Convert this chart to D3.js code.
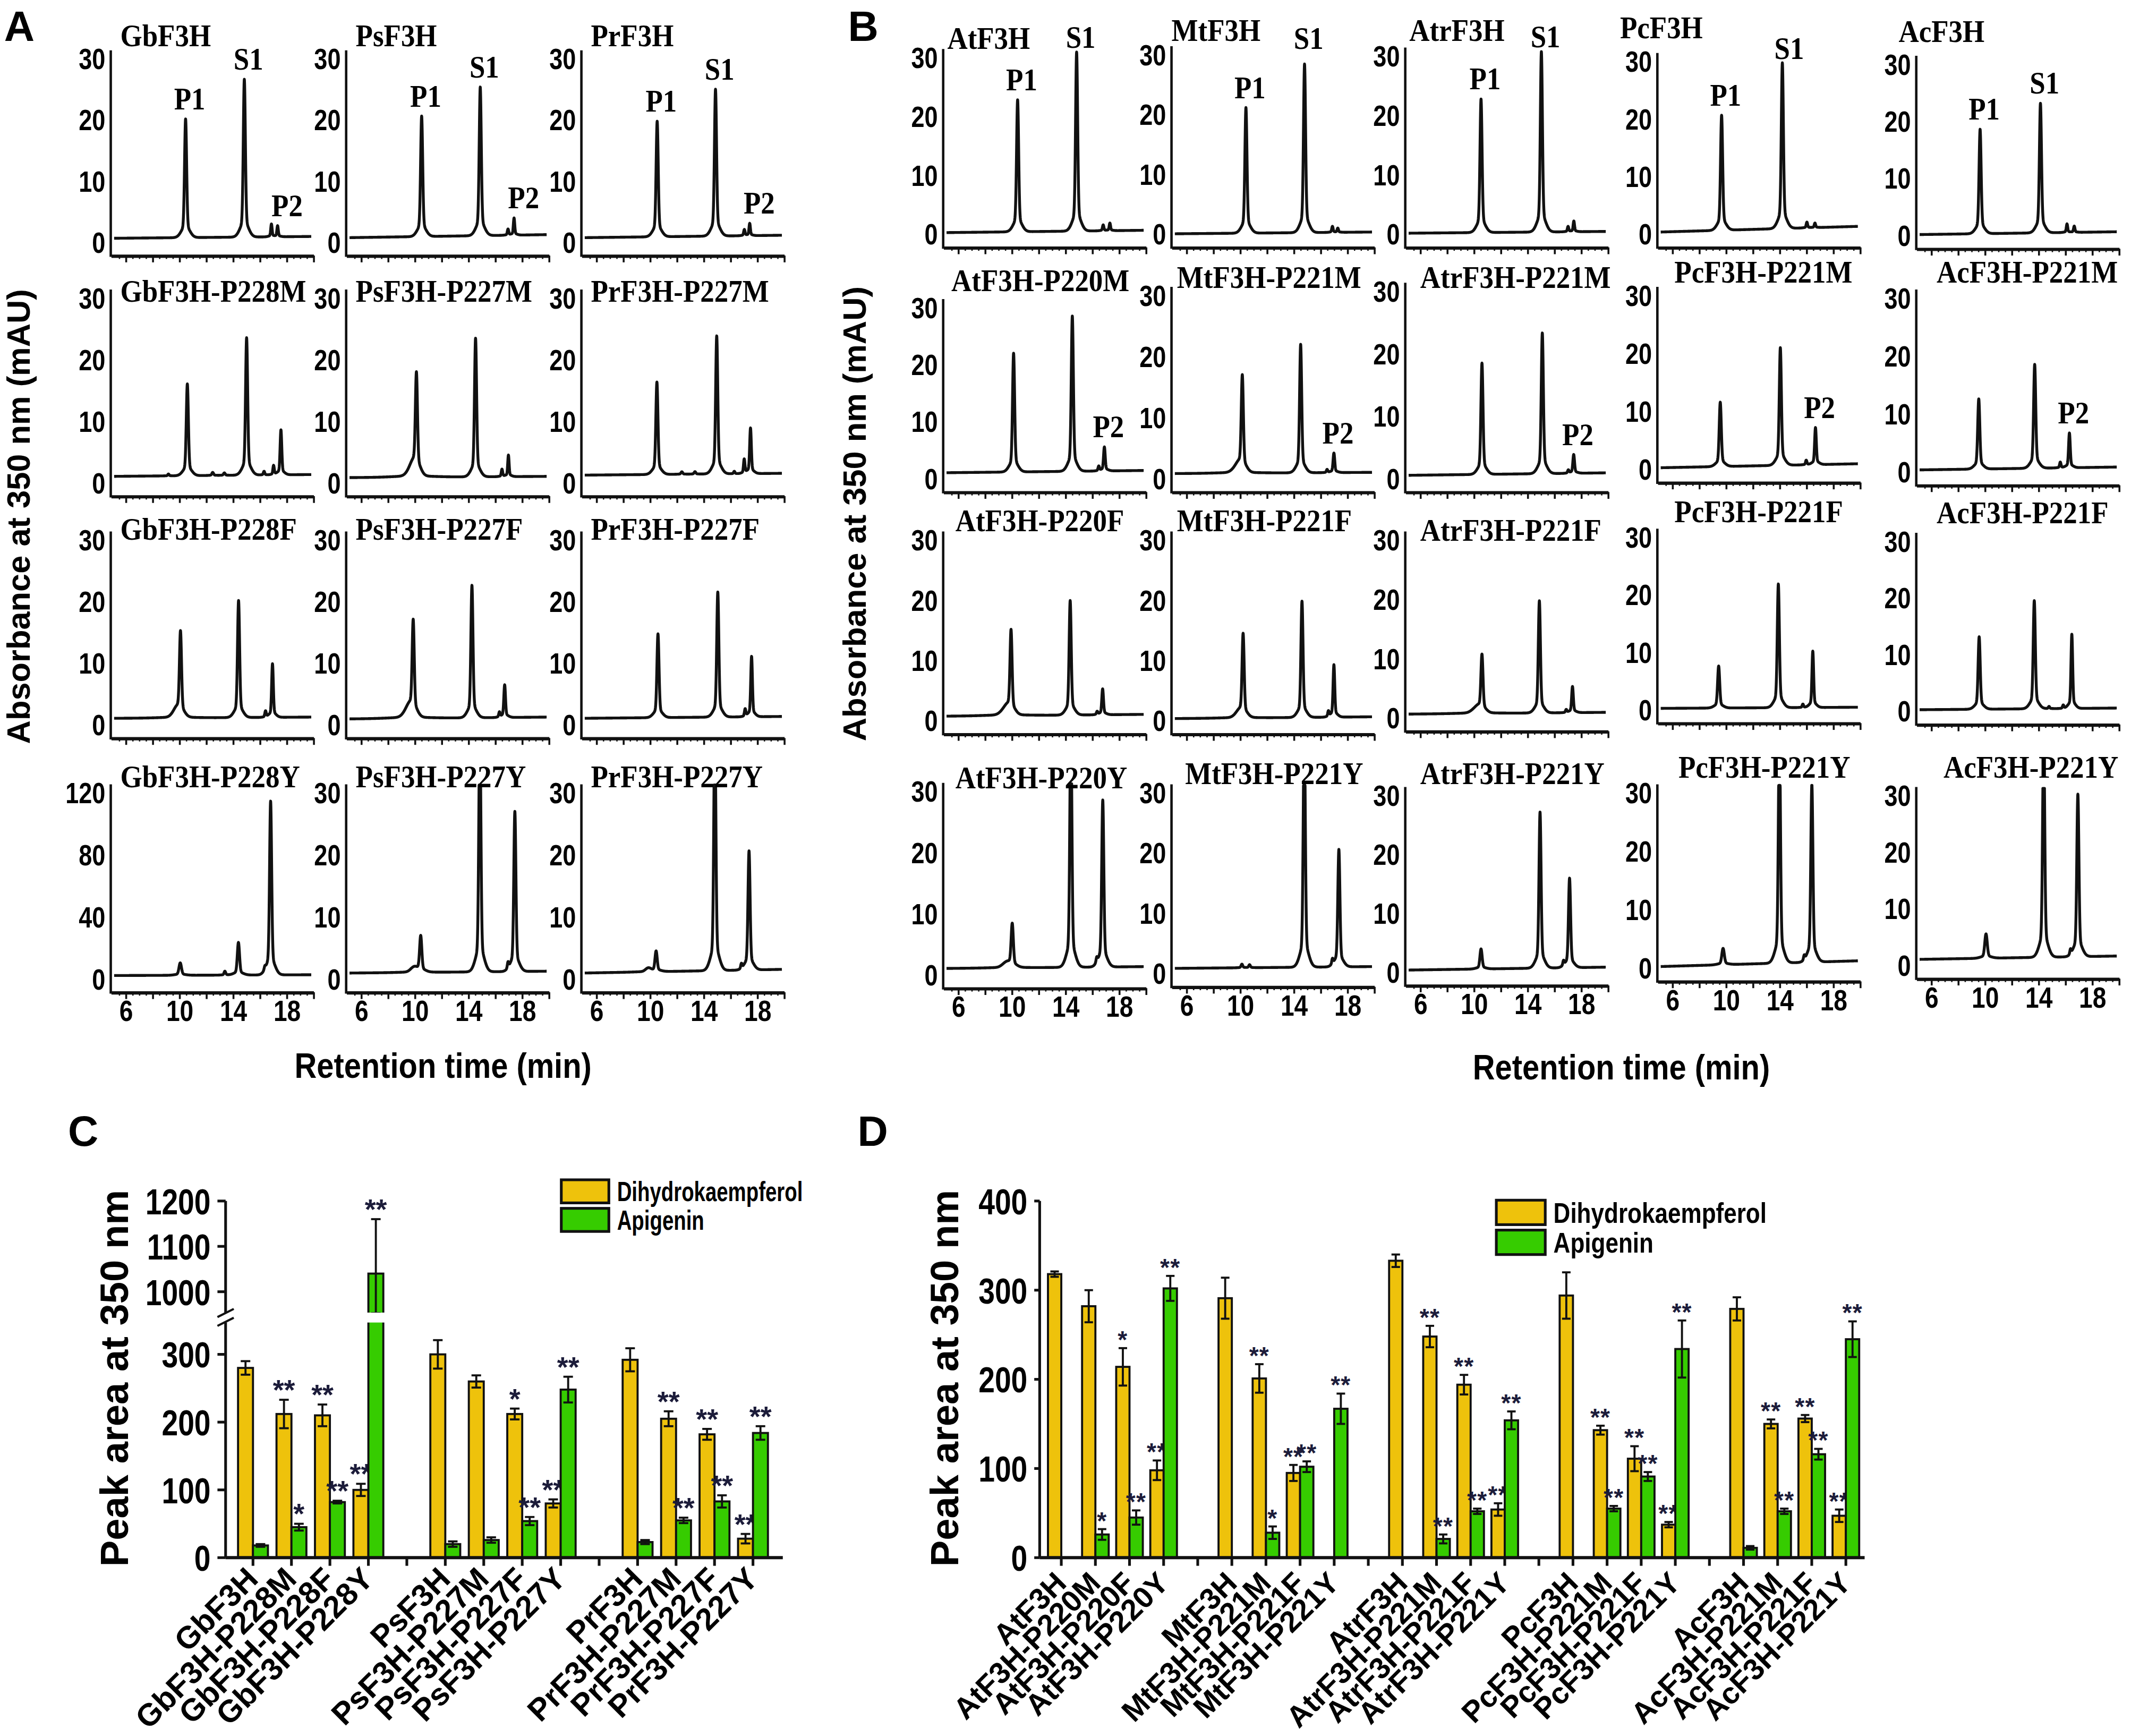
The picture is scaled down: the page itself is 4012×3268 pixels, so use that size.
<!DOCTYPE html>
<html>
<head>
<meta charset="utf-8">
<script src="https://cdn.jsdelivr.net/npm/d3@7"></script>
<style>
  body { margin: 0; background: #fff; }
  text { font-family: "Liberation Sans", Arial, sans-serif; font-weight: bold; }
  .serif { font-family: "Liberation Serif", "Times New Roman", serif; }
</style>
</head>
<body>
<script>
// chromatogram peaks: [retention time (min), height above baseline (mAU), sigma (min, optional)]
var chromA = [
  {title: "GbF3H", base: [0.6, 0.9], peaks: [[10.48, 19.4], [14.86, 25.8], [16.88, 2.1, 0.05], [17.34, 1.8, 0.05]], labels: [["P1", 10.48], ["S1", 14.86], ["P2", 17.34, 4]]},
  {title: "PsF3H", base: [0.7, 1.2], peaks: [[10.53, 19.7], [14.9, 24.3], [16.97, 1.0, 0.05], [17.42, 2.8, 0.05]], labels: [["P1", 10.53], ["S1", 14.9], ["P2", 17.42, 4]]},
  {title: "PrF3H", base: [0.7, 1.1], peaks: [[10.55, 18.9], [14.9, 24.0], [17.05, 1.0, 0.05], [17.45, 2.0, 0.05]], labels: [["P1", 10.55], ["S1", 14.9], ["P2", 17.45, 4]]},
  {title: "GbF3H-P228M", base: [1.0, 1.3], peaks: [[9.2, 0.3, 0.05], [10.61, 14.9], [12.5, 0.5, 0.06], [13.37, 0.4, 0.06], [15.03, 22.3], [16.33, 0.6, 0.05], [17.04, 1.5, 0.05], [17.59, 7.3, 0.06]]},
  {title: "PsF3H-P227M", base: [0.8, 1.0], peaks: [[9.9, 2.0, 0.35], [10.14, 15.5], [14.55, 22.5], [16.52, 1.2, 0.05], [17.0, 3.5, 0.05]]},
  {title: "PrF3H-P227M", base: [1.2, 1.5], peaks: [[10.53, 15], [12.39, 0.4, 0.06], [13.37, 0.4, 0.06], [14.99, 22.4], [16.3, 0.4, 0.05], [17.04, 2.3, 0.05], [17.51, 7.4, 0.06]]},
  {title: "GbF3H-P228F", base: [1.0, 1.2], peaks: [[9.8, 1.2, 0.3], [10.1, 13.4], [14.43, 19], [16.44, 1.0, 0.05], [16.96, 8.7, 0.06]]},
  {title: "PsF3H-P227F", base: [0.9, 1.2], peaks: [[9.6, 1.8, 0.35], [9.9, 14.8], [14.28, 21.5], [16.33, 0.8, 0.05], [16.72, 5.3, 0.06]]},
  {title: "PrF3H-P227F", base: [1.0, 1.3], peaks: [[10.61, 13.6], [15.07, 20.3], [17.11, 1.2, 0.05], [17.59, 9.8, 0.06]]},
  {title: "GbF3H-P228Y", ymax: 120, base: [2, 2.5], peaks: [[10.08, 8, 0.09], [13.41, 2.5, 0.06], [14.42, 21, 0.08], [16.39, 2, 0.05], [16.82, 112]]},
  {title: "PsF3H-P227Y", base: [0.9, 1.2], peaks: [[9.95, 0.8, 0.25], [10.46, 5.8, 0.08], [14.87, 40], [16.97, 1.0, 0.05], [17.48, 25.8]]},
  {title: "PrF3H-P227Y", base: [0.9, 1.5], peaks: [[9.88, 0.6, 0.2], [10.47, 3.3, 0.08], [14.85, 40], [16.83, 0.8, 0.05], [17.4, 19.2]]}
];

var chromB = [
  {title: "AtF3H", base: [0.2, 0.6], peaks: [[10.45, 22.4], [14.85, 30.4], [16.83, 1.0, 0.05], [17.33, 1.3, 0.05]], labels: [["P1", 10.45], ["S1", 14.85, 0, 4]]},
  {title: "MtF3H", base: [0.0, 0.3], peaks: [[10.45, 21.0], [14.82, 28.2], [16.9, 1.0, 0.05], [17.3, 0.7, 0.05]], labels: [["P1", 10.45], ["S1", 14.82, 0, -4]]},
  {title: "AtrF3H", base: [0.1, 0.4], peaks: [[10.55, 22.5], [15.05, 30.4], [17.04, 0.9, 0.05], [17.47, 1.8, 0.05]], labels: [["P1", 10.55], ["S1", 15.05, 0, 4]]},
  {title: "PcF3H", base: [0.3, 1.3], peaks: [[9.69, 20.0], [14.22, 28.8], [16.05, 1.0, 0.05], [16.65, 0.8, 0.05]], labels: [["P1", 9.69], ["S1", 14.22, 2, 4]]},
  {title: "AcF3H", base: [0.1, 0.6], peaks: [[9.66, 18.3], [14.16, 22.7], [16.14, 1.5, 0.05], [16.68, 1.1, 0.05]], labels: [["P1", 9.66], ["S1", 14.16]]},
  {title: "AtF3H-P220M", base: [1.0, 1.4], peaks: [[10.15, 20.8], [14.53, 27.2], [16.5, 0.8, 0.05], [16.92, 4.2, 0.06]], labels: [["P2", 16.92]]},
  {title: "MtF3H-P221M", base: [0.8, 1.0], peaks: [[9.85, 1.2, 0.35], [10.18, 15.3], [14.53, 21.0], [16.5, 0.5, 0.05], [17.01, 3.2, 0.06]], labels: [["P2", 17.01]]},
  {title: "AtrF3H-P221M", base: [0.5, 0.9], peaks: [[10.62, 17.8], [15.12, 22.5], [17.06, 0.5, 0.05], [17.46, 3.0, 0.06]], labels: [["P2", 17.46]]},
  {title: "PcF3H-P221M", base: [0.2, 0.9], peaks: [[9.59, 11.1], [14.07, 20.3], [16.0, 0.8, 0.05], [16.69, 6.4, 0.06]], labels: [["P2", 16.69]]},
  {title: "AcF3H-P221M", base: [0.3, 0.8], peaks: [[9.56, 12.1], [13.73, 17.9], [15.64, 1.0, 0.05], [16.32, 6.0, 0.06]], labels: [["P2", 16.32]]},
  {title: "AtF3H-P220F", base: [0.7, 1.0], peaks: [[9.6, 1.3, 0.35], [9.96, 13.5], [14.37, 19.0], [16.38, 0.5, 0.05], [16.79, 4.3, 0.06]]},
  {title: "MtF3H-P221F", base: [0.3, 0.6], peaks: [[9.9, 0.8, 0.3], [10.24, 13.6], [14.63, 19.3], [16.6, 0.9, 0.05], [17.01, 8.7, 0.06]]},
  {title: "AtrF3H-P221F", base: [0.6, 0.9], peaks: [[10.25, 1.0, 0.35], [10.62, 9.4], [14.9, 18.9], [16.9, 0.5, 0.05], [17.37, 4.4, 0.06]]},
  {title: "PcF3H-P221F", base: [0.2, 0.4], peaks: [[9.47, 7.3], [13.92, 21.5], [15.75, 0.6, 0.05], [16.49, 9.8, 0.06]]},
  {title: "AcF3H-P221F", base: [0.2, 0.5], peaks: [[9.59, 12.8], [13.7, 19.1], [14.8, 0.4, 0.05], [15.86, 0.6, 0.05], [16.5, 13.1, 0.06]]},
  {title: "AtF3H-P220Y", base: [1.0, 1.3], peaks: [[9.6, 0.8, 0.3], [10.05, 7.0, 0.08], [14.42, 40], [16.35, 0.8, 0.05], [16.8, 27.3]]},
  {title: "MtF3H-P221Y", base: [0.8, 1.1], peaks: [[10.15, 0.6, 0.06], [10.72, 0.5, 0.06], [14.8, 40], [16.9, 0.9, 0.05], [17.38, 19.5]]},
  {title: "AtrF3H-P221Y", base: [0.3, 0.8], peaks: [[10.55, 3.4, 0.08], [14.95, 26.5], [16.7, 0.8, 0.05], [17.15, 15.2]]},
  {title: "PcF3H-P221Y", base: [0.2, 1.2], peaks: [[9.8, 2.8, 0.09], [14.0, 40], [15.85, 0.8, 0.05], [16.42, 30.5]]},
  {title: "AcF3H-P221Y", base: [1.0, 1.6], peaks: [[10.1, 4.3, 0.09], [14.4, 40], [16.4, 0.9, 0.05], [16.95, 28.7]]}
];

// bar charts: peak area at 350 nm (mean, error)
var enzymesC = ["GbF3H", "GbF3H-P228M", "GbF3H-P228F", "GbF3H-P228Y", "PsF3H", "PsF3H-P227M", "PsF3H-P227F", "PsF3H-P227Y", "PrF3H", "PrF3H-P227M", "PrF3H-P227F", "PrF3H-P227Y"];
var dhkC = [280, 212, 210, 100, 300, 260, 212, 80, 292, 205, 182, 28];
var dhkErrC = [10, 21, 16, 9, 21, 9, 8, 6, 17, 11, 8, 7];
var apiC = [18, 45, 82, 1040, 20, 26, 54, 248, 23, 55, 83, 184];
var apiErrC = [2, 5, 2, 120, 4, 4, 6, 19, 3, 4, 9, 10];
var sigDhkC = ["", "**", "**", "**", "", "", "*", "**", "", "**", "**", "**"];
var sigApiC = ["", "*", "**", "**", "", "", "**", "**", "", "**", "**", "**"];

var enzymesD = ["AtF3H", "AtF3H-P220M", "AtF3H-P220F", "AtF3H-P220Y", "MtF3H", "MtF3H-P221M", "MtF3H-P221F", "MtF3H-P221Y",
  "AtrF3H", "AtrF3H-P221M", "AtrF3H-P221F", "AtrF3H-P221Y", "PcF3H", "PcF3H-P221M", "PcF3H-P221F", "PcF3H-P221Y",
  "AcF3H", "AcF3H-P221M", "AcF3H-P221F", "AcF3H-P221Y"];
var dhkD = [318, 282, 214, 98, 291, 201, 95, null, 333, 248, 194, 54, 294, 143, 111, 37, 279, 150, 156, 47];
var dhkErrD = [3, 18, 21, 11, 23, 16, 9, null, 7, 12, 11, 7, 26, 5, 14, 3, 13, 5, 4, 7];
var apiD = [null, 26, 45, 302, null, 28, 102, 167, null, 21, 52, 154, null, 55, 91, 234, 11, 52, 116, 245];
var apiErrD = [null, 6, 8, 14, null, 7, 6, 17, null, 5, 3, 10, null, 3, 5, 32, 2, 3, 6, 20];
var sigDhkD = ["", "", "*", "**", "", "**", "**", "", "", "**", "**", "**", "", "**", "**", "**", "", "**", "**", "**"];
var sigApiD = ["", "*", "**", "**", "", "*", "**", "**", "", "**", "**", "**", "", "**", "**", "**", "", "**", "**", "**"];

var seriesNames = ["Dihydrokaempferol", "Apigenin"];
var seriesColors = ["#EEC20C", "#36CC00"];

var W = 1568, H = 1277.2;
var svg = d3.select("body").append("svg")
  .attr("width", 4012).attr("height", 3268)
  .attr("viewBox", "0 0 " + W + " " + H);
svg.append("rect").attr("width", W).attr("height", H).attr("fill", "#fff");

var timeGrid = d3.range(5.15, 19.86, 0.01);

function peakShape(d, s) {
  return 0.9 * Math.exp(-d * d / (2 * s * s)) + 0.1 * Math.exp(-d * d / (32 * s * s));
}

function signal(c, t) {
  var v = c.base[0] + (c.base[1] - c.base[0]) * (t - 5) / 15;
  c.peaks.forEach(function(p) {
    v += p[1] * peakShape(t - p[0], p[2] || 0.075);
  });
  return v;
}

// narrow text: place at (x, y) and squeeze horizontally
function narrow(sel, x, y, sx) {
  return sel.attr("transform", "translate(" + x + "," + y + ") scale(" + sx + ",1)");
}

function drawChrom(c, x0, y30, y0, titleX, titleY, showX) {
  var ymax = c.ymax || 30;
  var x = d3.scaleLinear().domain([4.9, 20]).range([x0, x0 + 149]);
  var y = d3.scaleLinear().domain([0, ymax]).range([y0, y30]);
  var axisY = y0 + 10;
  var g = svg.append("g");

  var pts = timeGrid.map(function(t) { return [t, Math.min(signal(c, t), ymax * 1.04)]; });
  g.append("path").datum(pts)
    .attr("d", d3.line().x(function(d) { return x(d[0]); }).y(function(d) { return y(d[1]); }))
    .attr("fill", "none").attr("stroke", "#111").attr("stroke-width", 2.1)
    .attr("stroke-linejoin", "round");

  g.append("line").attr("x1", x0).attr("x2", x0).attr("y1", axisY + 1).attr("y2", y30 - 6)
    .attr("stroke", "#111").attr("stroke-width", 1.8);

  g.selectAll(".yl").data(d3.range(0, ymax + 1, ymax / 3)).enter().append("text")
    .attr("transform", function(d) { return "translate(" + (x0 - 4) + "," + y(d) + ") scale(0.8,1)"; })
    .attr("dy", "0.36em").attr("text-anchor", "end").attr("font-size", 22).text(function(d) { return d; });

  var major = d3.axisBottom(x).tickValues(d3.range(6, 20.01, 2)).tickSize(5).tickSizeOuter(0)
    .tickFormat(function(d) { return showX && d % 4 === 2 && d < 20 ? d : ""; });
  var ga = g.append("g").attr("transform", "translate(0," + axisY + ")").call(major);
  ga.select(".domain").attr("stroke", "#111").attr("stroke-width", 2.4);
  ga.selectAll(".tick line").attr("stroke", "#111").attr("stroke-width", 1.4);
  ga.selectAll(".tick text").attr("font-size", 22).attr("fill", "#000").attr("transform", "scale(0.82,1)")
    .attr("font-family", "Liberation Sans, Arial, sans-serif").attr("font-weight", "bold").attr("dy", "0.6em");

  var minor = d3.axisBottom(x).tickValues(d3.range(5.5, 20, 0.5).filter(function(d) { return d % 2 !== 0; }))
    .tickSize(2.5).tickFormat("");
  var gm = g.append("g").attr("transform", "translate(0," + axisY + ")").call(minor);
  gm.select(".domain").remove();
  gm.selectAll(".tick line").attr("stroke", "#111").attr("stroke-width", 1);

  narrow(g.append("text").attr("class", "serif").attr("font-size", 23).text(c.title), titleX, titleY, 0.9);

  (c.labels || []).forEach(function(l) {
    var apex = d3.max(timeGrid.filter(function(t) { return Math.abs(t - l[1]) < 0.1; }), function(t) { return signal(c, t); });
    apex = Math.min(apex, ymax * 1.04);
    narrow(g.append("text").attr("class", "serif").attr("text-anchor", "middle").attr("font-size", 23).text(l[0]),
      x(l[1]) + 3 + (l[2] || 0), y(apex) - 7 + (l[3] || 0), 0.9);
  });
}

// panel A layout
var colXA = [81.5, 254.7, 427.8];
var y30A = [43, 219, 397, 583];
var y0A = [178, 355, 533, 720];
var titleYA = [34, 222, 397, 579];
chromA.forEach(function(c, i) {
  var r = Math.floor(i / 3), k = i % 3;
  drawChrom(c, colXA[k], y30A[r], y0A[r], colXA[k] + 7, titleYA[r], r === 3);
});

// panel B layout
var colXB = [694, 862, 1034, 1219.5, 1410];
var y30B = [[42, 40, 41, 45, 47], [226, 217, 214, 217, 219], [397, 397, 397, 395, 398], [582, 583, 585, 583, 585]];
var y0B = [[172, 172, 172, 172, 173], [352, 352, 352, 345, 347], [530, 530, 528, 522, 523], [717, 716, 715, 712, 710]];
var titleXB = [[697, 862, 1037, 1192, 1397], [700, 866, 1045, 1232, 1425], [703, 866, 1045, 1232, 1425], [703, 872, 1045, 1235, 1430]];
var titleYB = [[36, 30, 30, 28, 31], [214, 212, 212, 208, 208], [391, 391, 398, 384, 385], [580, 577, 577, 572, 572]];
chromB.forEach(function(c, i) {
  var r = Math.floor(i / 5), k = i % 5;
  drawChrom(c, colXB[k], y30B[r][k], y0B[r][k], titleXB[r][k], titleYB[r][k], r === 3);
});

function panelLetter(t, x, y) {
  svg.append("text").attr("x", x).attr("y", y).attr("font-size", 31).text(t);
}
panelLetter("A", 3, 30);
panelLetter("B", 624, 30);
panelLetter("C", 50, 843);
panelLetter("D", 631, 843);

svg.append("text").attr("transform", "translate(22,380) rotate(-90)").attr("text-anchor", "middle")
  .attr("font-size", 24).text("Absorbance at 350 nm (mAU)");
svg.append("text").attr("transform", "translate(637,378) rotate(-90)").attr("text-anchor", "middle")
  .attr("font-size", 24).text("Absorbance at 350 nm (mAU)");
narrow(svg.append("text").attr("text-anchor", "middle").attr("font-size", 26).text("Retention time (min)"), 326, 793, 0.87);
narrow(svg.append("text").attr("text-anchor", "middle").attr("font-size", 26).text("Retention time (min)"), 1193, 794, 0.87);

function withGaps(names) {
  var slots = [];
  names.forEach(function(n, i) {
    if (i > 0 && i % 4 === 0) slots.push("gap" + i);
    slots.push(n);
  });
  return slots;
}

function drawBars(o) {
  var g = svg.append("g");
  var slots = withGaps(o.names);
  var x = d3.scaleBand().domain(slots).range([o.left, o.right]);
  var y = o.y;
  var y0 = y(0);
  var bw = o.barW;

  o.names.forEach(function(n, i) {
    var cx = x(n) + x.bandwidth() / 2;
    [[o.dhk, o.dhkErr, o.sigDhk, -1], [o.api, o.apiErr, o.sigApi, 0]].forEach(function(s, j) {
      var v = s[0][i];
      if (v == null) return;
      var bx = cx + s[3] * bw;
      var mid = bx + bw / 2;
      g.append("rect").attr("x", bx).attr("y", y(v)).attr("width", bw).attr("height", y0 - y(v))
        .attr("fill", seriesColors[j]).attr("stroke", "#111").attr("stroke-width", 1.5);
      var e = s[1][i];
      var top = y(v + e);
      g.append("line").attr("x1", mid).attr("x2", mid).attr("y1", y(v - e)).attr("y2", top)
        .attr("stroke", "#111").attr("stroke-width", 1.5);
      [v - e, v + e].forEach(function(val) {
        g.append("line").attr("x1", mid - bw * 0.32).attr("x2", mid + bw * 0.32)
          .attr("y1", y(val)).attr("y2", y(val)).attr("stroke", "#111").attr("stroke-width", 1.5);
      });
      if (s[2][i]) {
        g.append("text").attr("x", mid).attr("y", top).attr("text-anchor", "middle")
          .attr("font-size", o.starSize).attr("font-weight", "normal").attr("letter-spacing", o.starSpace)
          .attr("fill", "#1c1c3a").text(s[2][i]);
      }
    });
  });

  if (o.gap) {
    var gx = x(o.names[3]) + x.bandwidth() / 2 - 1;
    g.append("rect").attr("x", gx).attr("y", o.gap[1]).attr("width", bw + 3).attr("height", o.gap[0] - o.gap[1]).attr("fill", "#fff");
  }

  // y axis
  o.segments.forEach(function(seg) {
    g.append("line").attr("x1", o.axisX).attr("x2", o.axisX).attr("y1", y(seg[0])).attr("y2", y(seg[1]))
      .attr("stroke", "#111").attr("stroke-width", 2);
  });
  g.selectAll(".yt").data(o.ticks).enter().append("line")
    .attr("x1", o.axisX - o.tickLen).attr("x2", o.axisX).attr("y1", function(d) { return y(d); }).attr("y2", function(d) { return y(d); })
    .attr("stroke", "#111").attr("stroke-width", 2);
  g.selectAll(".yl").data(o.ticks).enter().append("text")
    .attr("transform", function(d) { return "translate(" + (o.axisX - o.tickLen - 5) + "," + y(d) + ") scale(0.8,1)"; })
    .attr("dy", "0.36em").attr("text-anchor", "end").attr("font-size", 27).text(function(d) { return d; });

  // x axis
  g.append("line").attr("x1", o.axisX).attr("x2", o.axisEnd).attr("y1", y0).attr("y2", y0)
    .attr("stroke", "#111").attr("stroke-width", 2.4);
  slots.forEach(function(sl) {
    var cx = x(sl) + x.bandwidth() / 2;
    g.append("line").attr("x1", cx).attr("x2", cx).attr("y1", y0).attr("y2", y0 + 6)
      .attr("stroke", "#111").attr("stroke-width", 2);
    if (sl.indexOf("gap") === 0) return;
    g.append("text").attr("transform", "translate(" + (cx + 5) + "," + (y0 + o.labelDy) + ") rotate(" + o.labelAngle + ")")
      .attr("text-anchor", "end").attr("font-size", o.labelSize).text(sl);
  });

  // y title
  g.append("text").attr("transform", "translate(" + o.titleX + ",1014) rotate(-90)").attr("text-anchor", "middle")
    .attr("font-size", 29).text("Peak area at 350 nm");

  // legend
  seriesNames.forEach(function(n, j) {
    var ly = o.legend[1] + j * o.legend[3];
    g.append("rect").attr("x", o.legend[0]).attr("y", ly).attr("width", o.legend[2]).attr("height", o.legend[3] - 4)
      .attr("fill", seriesColors[j]).attr("stroke", "#111").attr("stroke-width", 2);
    narrow(g.append("text").attr("dy", "0.36em").attr("font-size", o.legendSize).text(n),
      o.legend[0] + o.legend[2] + 6, ly + (o.legend[3] - 4) / 2, o.legendSx);
  });

  return g;
}

// panel C: broken y axis
var yC = d3.scaleLinear().domain([0, 347, 954, 1200]).range([1146, 973, 965.7, 883.6]);
var gC = drawBars({
  names: enzymesC, dhk: dhkC, dhkErr: dhkErrC, api: apiC, apiErr: apiErrC, sigDhk: sigDhkC, sigApi: sigApiC,
  left: 172, right: 568.2, y: yC, barW: 11, axisX: 166, axisEnd: 576,
  segments: [[0, 347], [954, 1200]], ticks: [0, 100, 200, 300, 1000, 1100, 1200], tickLen: 6,
  gap: [973, 965.7], starSize: 21, starSpace: 0, labelSize: 23, labelAngle: -45, labelDy: 17, titleX: 94,
  legend: [413, 868, 35, 21], legendSize: 20, legendSx: 0.75
});
gC.append("line").attr("x1", 160).attr("x2", 172).attr("y1", 969).attr("y2", 963).attr("stroke", "#111").attr("stroke-width", 1.6);
gC.append("line").attr("x1", 160).attr("x2", 172).attr("y1", 975.5).attr("y2", 969.5).attr("stroke", "#111").attr("stroke-width", 1.6);

// panel D
var yD = d3.scaleLinear().domain([0, 400]).range([1146, 883.6]);
drawBars({
  names: enzymesD, dhk: dhkD, dhkErr: dhkErrD, api: apiD, apiErr: apiErrD, sigDhk: sigDhkD, sigApi: sigApiD,
  left: 768.35, right: 1370.75, y: yD, barW: 9.8, axisX: 765, axisEnd: 1372,
  segments: [[0, 400]], ticks: [0, 100, 200, 300, 400], tickLen: 4,
  starSize: 18, starSpace: 0.5, labelSize: 22, labelAngle: -45, labelDy: 20, titleX: 705,
  legend: [1101, 883, 36, 22], legendSize: 21, legendSx: 0.82
});
</script>
</body>
</html>
